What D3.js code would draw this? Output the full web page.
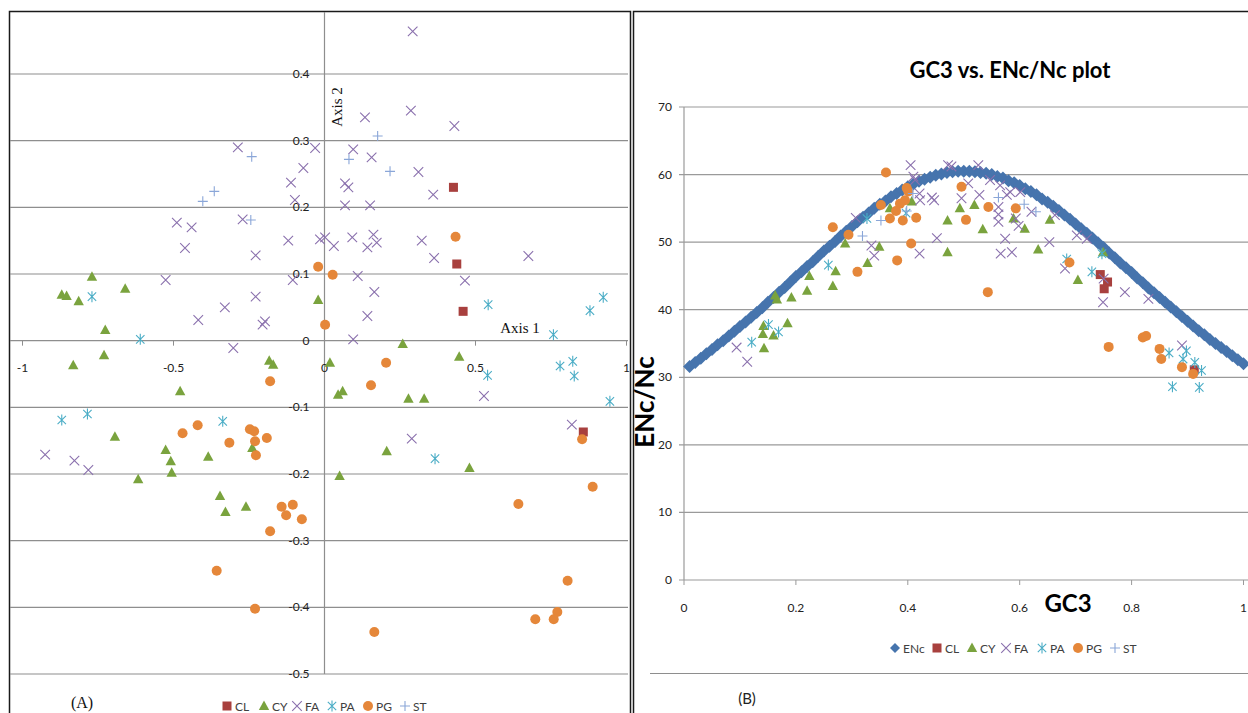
<!DOCTYPE html>
<html>
<head>
<meta charset="utf-8">
<script src="https://cdn.jsdelivr.net/npm/d3@7"></script>
<style>
  body { margin: 0; background: #fff; }
  svg { display: block; }
</style>
</head>
<body>
<div id="chart"></div>
<script>
// ---- Panel A: correspondence analysis (Axis 1 vs Axis 2) ----
const clA = [[0.427,0.230],[0.438,0.115],[0.459,0.044],[0.857,-0.137]];
const cyA = [[-0.870,0.069],[-0.854,0.067],[-0.814,0.059],[-0.770,0.096],[-0.660,0.078],[-0.726,0.016],
  [-0.021,0.061],[-0.730,-0.022],[-0.832,-0.037],[-0.478,-0.076],[-0.694,-0.144],[-0.526,-0.164],
  [-0.509,-0.181],[-0.506,-0.198],[-0.617,-0.208],[-0.385,-0.174],[-0.346,-0.233],[-0.328,-0.257],
  [-0.260,-0.249],[-0.239,-0.161],[-0.183,-0.030],[-0.170,-0.036],[0.018,-0.033],[0.259,-0.005],
  [0.446,-0.024],[0.045,-0.081],[0.060,-0.076],[0.278,-0.087],[0.330,-0.087],[0.206,-0.166],
  [0.480,-0.191],[0.050,-0.203]];
const faA = [[-0.287,0.290],[-0.489,0.177],[-0.440,0.170],[-0.462,0.139],[-0.271,0.182],[-0.228,0.128],
  [-0.526,0.091],[-0.418,0.031],[-0.330,0.050],[-0.228,0.066],[-0.205,0.024],[-0.197,0.029],
  [-0.302,-0.011],[-0.111,0.237],[-0.070,0.259],[-0.098,0.211],[-0.120,0.150],[-0.105,0.091],
  [-0.031,0.289],[-0.015,0.152],[0.292,0.464],[0.134,0.335],[0.286,0.345],[0.430,0.322],
  [0.095,0.287],[0.156,0.275],[0.311,0.253],[0.360,0.219],[0.068,0.236],[0.079,0.230],
  [0.068,0.203],[0.151,0.203],[0.002,0.155],[0.031,0.142],[0.092,0.155],[0.162,0.159],
  [0.142,0.140],[0.173,0.147],[0.322,0.150],[0.363,0.124],[0.675,0.127],[0.465,0.090],
  [0.110,0.097],[0.165,0.073],[0.142,0.037],[0.095,0.002],[-0.925,-0.171],[-0.828,-0.180],
  [-0.782,-0.194],[0.528,-0.083],[0.289,-0.147],[0.819,-0.126]];
const paA = [[-0.770,0.066],[-0.610,0.002],[-0.870,-0.119],[-0.785,-0.110],[-0.337,-0.121],
  [0.542,0.054],[0.879,0.045],[0.923,0.065],[0.758,0.009],[0.780,-0.038],[0.822,-0.031],
  [0.827,-0.053],[0.540,-0.052],[0.945,-0.091],[0.366,-0.177]];
const pgA = [[-0.021,0.111],[0.002,0.024],[0.434,0.156],[0.027,0.099],[-0.180,-0.061],[-0.470,-0.139],
  [-0.420,-0.127],[-0.315,-0.153],[-0.247,-0.133],[-0.233,-0.136],[-0.230,-0.151],[-0.191,-0.146],
  [-0.227,-0.172],[-0.142,-0.249],[-0.127,-0.262],[-0.105,-0.246],[-0.075,-0.268],[-0.180,-0.286],
  [-0.357,-0.345],[-0.230,-0.402],[0.204,-0.033],[0.154,-0.067],[0.853,-0.148],[0.888,-0.219],
  [0.642,-0.245],[0.805,-0.360],[0.771,-0.407],[0.759,-0.418],[0.698,-0.418],[0.165,-0.437]];
const stA = [[-0.241,0.276],[-0.365,0.224],[-0.403,0.209],[-0.244,0.181],[0.176,0.307],[0.081,0.272],[0.217,0.254]];
const xTicksA = [-1, -0.5, 0, 0.5, 1];
const yTicksA = [-0.5, -0.4, -0.3, -0.2, -0.1, 0, 0.1, 0.2, 0.3, 0.4];

// ---- Panel B: GC3 vs ENc/Nc ----
const encGc3 = [0.01,0.02,0.03,0.04,0.05,0.06,0.07,0.08,0.09,0.10,0.11,0.12,0.13,0.14,0.15,0.16,0.17,0.18,0.19,0.20,
  0.21,0.22,0.23,0.24,0.25,0.26,0.27,0.28,0.29,0.30,0.31,0.32,0.33,0.34,0.35,0.36,0.37,0.38,0.39,0.40,
  0.41,0.42,0.43,0.44,0.45,0.46,0.47,0.48,0.49,0.50,0.51,0.52,0.53,0.54,0.55,0.56,0.57,0.58,0.59,0.60,
  0.61,0.62,0.63,0.64,0.65,0.66,0.67,0.68,0.69,0.70,0.71,0.72,0.73,0.74,0.75,0.76,0.77,0.78,0.79,0.80,
  0.81,0.82,0.83,0.84,0.85,0.86,0.87,0.88,0.89,0.90,0.91,0.92,0.93,0.94,0.95,0.96,0.97,0.98,0.99,1.00];
const encValues = [31.6,32.2,32.8,33.5,34.1,34.8,35.4,36.1,36.8,37.5,38.2,38.9,39.6,40.3,41.1,41.8,42.6,43.3,44.1,44.9,
  45.6,46.4,47.1,47.9,48.7,49.4,50.1,50.9,51.6,52.3,53.0,53.7,54.3,55.0,55.6,56.1,56.7,57.2,57.7,58.2,
  58.6,59.0,59.3,59.6,59.9,60.1,60.3,60.4,60.5,60.5,60.5,60.4,60.3,60.2,60.0,59.7,59.5,59.1,58.8,58.4,
  57.9,57.5,57.0,56.4,55.9,55.3,54.7,54.0,53.4,52.7,52.0,51.3,50.6,49.9,49.2,48.4,47.7,46.9,46.2,45.5,
  44.7,44.0,43.2,42.5,41.8,41.1,40.4,39.7,39.0,38.3,37.6,36.9,36.3,35.6,35.0,34.4,33.8,33.2,32.6,32.0];
const clB = [[0.744,45.2],[0.757,44.1],[0.751,43.1],[0.912,31.1]];
const cyB = [[0.142,37.6],[0.141,36.4],[0.143,34.3],[0.160,36.2],[0.185,38.0],[0.163,42.1],[0.166,41.5],
  [0.192,41.8],[0.220,42.8],[0.224,45.0],[0.266,43.5],[0.271,45.7],[0.288,49.8],[0.328,46.9],[0.349,49.3],
  [0.368,55.0],[0.407,56.0],[0.471,53.2],[0.493,55.0],[0.519,55.5],[0.534,51.9],[0.471,48.5],[0.589,53.5],
  [0.609,52.0],[0.633,48.9],[0.654,53.3],[0.704,44.4],[0.749,48.5]];
const faB = [[0.094,34.4],[0.113,32.3],[0.307,53.6],[0.335,49.5],[0.340,48.0],[0.405,61.4],[0.410,59.7],
  [0.413,59.2],[0.472,61.4],[0.478,61.2],[0.526,61.4],[0.421,57.2],[0.422,56.2],[0.443,56.6],[0.447,56.2],
  [0.496,56.5],[0.508,58.7],[0.528,57.0],[0.547,59.2],[0.565,58.4],[0.577,57.0],[0.583,57.4],[0.601,57.4],
  [0.562,55.2],[0.562,54.1],[0.562,53.0],[0.593,53.5],[0.598,52.4],[0.621,54.5],[0.574,50.5],[0.566,48.3],
  [0.586,48.5],[0.653,50.0],[0.452,50.6],[0.421,48.3],[0.663,54.0],[0.702,51.0],[0.720,50.5],[0.681,46.1],
  [0.749,41.1],[0.788,42.6],[0.830,41.6],[0.890,34.7],[0.750,44.6]];
const paB = [[0.121,35.2],[0.151,37.8],[0.169,36.7],[0.258,46.6],[0.327,53.5],[0.397,54.3],[0.684,47.5],
  [0.747,48.3],[0.729,45.6],[0.867,33.6],[0.898,33.9],[0.892,32.7],[0.913,32.2],[0.925,31.0],
  [0.873,28.6],[0.921,28.5]];
const pgB = [[0.266,52.2],[0.294,51.1],[0.310,45.6],[0.361,60.3],[0.352,55.5],[0.398,58.0],[0.401,57.5],
  [0.395,56.2],[0.386,55.7],[0.379,54.6],[0.368,53.5],[0.391,53.2],[0.415,53.6],[0.406,49.8],[0.381,47.3],
  [0.496,58.2],[0.504,53.3],[0.544,55.2],[0.593,55.0],[0.543,42.6],[0.689,47.0],[0.759,34.5],[0.820,35.9],
  [0.826,36.1],[0.850,34.2],[0.853,32.7],[0.890,31.5],[0.910,30.5]];
const stB = [[0.319,50.9],[0.352,53.2],[0.398,54.6],[0.409,57.2],[0.562,56.6],[0.608,55.6],[0.629,54.5]];
const xTicksB = [0, 0.2, 0.4, 0.6, 0.8, 1];
const yTicksB = [0, 10, 20, 30, 40, 50, 60, 70];

const colors = { ENc: "#4674ad", CL: "#a8403e", CY: "#7aa33e", FA: "#8a70ad", PA: "#4badc6", PG: "#e5873a", ST: "#8aa6d8" };
const shapes = { ENc: "diamond", CL: "square", CY: "triangle", FA: "x", PA: "star", PG: "circle", ST: "plus" };
const sans = "Lato, 'Open Sans', sans-serif";
const serif = "'Liberation Serif', 'DejaVu Serif', serif";

const svg = d3.select("#chart").append("svg").attr("width", 1248).attr("height", 713);

function marker(g, name, big) {
  const c = colors[name];
  switch (shapes[name]) {
    case "square":
      g.append("rect").attr("x", -4.5).attr("y", -4.5).attr("width", 9).attr("height", 9).attr("fill", c); break;
    case "triangle":
      g.append("path").attr("d", "M0,-5.5L5.2,4L-5.2,4Z").attr("fill", c); break;
    case "x":
      g.append("path").attr("d", "M-4.8,-4.8L4.8,4.8M-4.8,4.8L4.8,-4.8").attr("stroke", c).attr("stroke-width", 1.1).attr("fill", "none"); break;
    case "star":
      g.append("path").attr("d", "M-4.2,-4.2L4.2,4.2M-4.2,4.2L4.2,-4.2M0,-5.5L0,5.5").attr("stroke", c).attr("stroke-width", 1.1).attr("fill", "none"); break;
    case "circle":
      g.append("circle").attr("r", 5).attr("fill", c); break;
    case "plus":
      g.append("path").attr("d", "M-5,0L5,0M0,-5L0,5").attr("stroke", c).attr("stroke-width", 1.1).attr("fill", "none"); break;
    case "diamond": {
      const s = big ? 6.5 : 5;
      g.append("path").attr("d", `M0,${-s}L${s},0L0,${s}L${-s},0Z`).attr("fill", c); break;
    }
  }
}

function series(layer, data, name, x, y, big) {
  layer.selectAll(null).data(data).enter().append("g")
    .attr("transform", d => `translate(${x(d[0])},${y(d[1])})`)
    .each(function () { marker(d3.select(this), name, big); });
}

function legend(g, names, positions, yy) {
  names.forEach((n, i) => {
    const it = g.append("g").attr("transform", `translate(${positions[i]},${yy})`);
    marker(it, n, false);
    it.append("text").attr("x", 8).attr("y", 4.5).text(n)
      .attr("font-family", sans).attr("font-size", 12).attr("fill", "#404040");
  });
}

// ================= Panel A =================
const A = svg.append("g");
const xA = d3.scaleLinear().domain([-1, 1]).range([22.5, 626.5]);
const yA = d3.scaleLinear().domain([-0.5, 0.4]).range([674, 74]);

// frame
A.append("path").attr("d", "M9.5,713V11.5H630.5V713").attr("fill", "none").attr("stroke", "#1a1a1a").attr("stroke-width", 1.5);

// horizontal gridlines
A.selectAll(".gA").data(yTicksA).enter().append("line")
  .attr("x1", 10).attr("x2", 628).attr("y1", d => yA(d)).attr("y2", d => yA(d))
  .attr("stroke", "#8e8e8e").attr("stroke-width", 1.2);
// vertical axis through zero
A.append("line").attr("x1", xA(0)).attr("x2", xA(0)).attr("y1", 12).attr("y2", yA(-0.5))
  .attr("stroke", "#8e8e8e").attr("stroke-width", 1.2);
// x tick marks
A.selectAll(".tA").data(xTicksA.filter(d => d !== 0)).enter().append("line")
  .attr("x1", d => xA(d)).attr("x2", d => xA(d)).attr("y1", yA(0)).attr("y2", yA(0) + 5)
  .attr("stroke", "#8e8e8e");
// tick labels
A.selectAll(".xlA").data(xTicksA).enter().append("text")
  .attr("x", d => xA(d)).attr("y", yA(0) + 31).attr("text-anchor", "middle")
  .attr("font-family", sans).attr("font-size", 12).attr("fill", "#222").text(d => String(d));
A.selectAll(".ylA").data(yTicksA).enter().append("text")
  .attr("x", xA(0) - 15).attr("y", d => yA(d) + 4).attr("text-anchor", "end")
  .attr("font-family", sans).attr("font-size", 12).attr("fill", "#222").text(d => String(d));

A.append("text").attr("transform", `translate(${xA(0) + 17},107) rotate(-90)`).attr("text-anchor", "middle")
  .attr("font-family", serif).attr("font-size", 15).attr("fill", "#111").text("Axis 2");
A.append("text").attr("x", 520).attr("y", 333).attr("text-anchor", "middle")
  .attr("font-family", serif).attr("font-size", 15).attr("fill", "#111").text("Axis 1");

const pA = A.append("g");
series(pA, clA, "CL", xA, yA);
series(pA, cyA, "CY", xA, yA);
series(pA, faA, "FA", xA, yA);
series(pA, paA, "PA", xA, yA);
series(pA, pgA, "PG", xA, yA);
series(pA, stA, "ST", xA, yA);

legend(A, ["CL", "CY", "FA", "PA", "PG", "ST"], [227, 264, 297, 332, 368, 405], 706);
A.append("text").attr("x", 82).attr("y", 708).attr("text-anchor", "middle")
  .attr("font-family", serif).attr("font-size", 16).attr("fill", "#111").text("(A)");

// ================= Panel B =================
const B = svg.append("g");
const xB = d3.scaleLinear().domain([0, 1]).range([684, 1243.5]);
const yB = d3.scaleLinear().domain([0, 70]).range([580, 107]);

B.append("path").attr("d", "M633.5,713V11.5H1248").attr("fill", "none").attr("stroke", "#1a1a1a").attr("stroke-width", 1.5);
B.append("line").attr("x1", 650).attr("x2", 1248).attr("y1", 673.5).attr("y2", 673.5).attr("stroke", "#8e8e8e");

B.selectAll(".gB").data(yTicksB).enter().append("line")
  .attr("x1", 679).attr("x2", 1248).attr("y1", d => yB(d)).attr("y2", d => yB(d))
  .attr("stroke", "#9a9a9a").attr("stroke-width", 1.2);
B.append("line").attr("x1", 684).attr("x2", 684).attr("y1", yB(70)).attr("y2", yB(0))
  .attr("stroke", "#9a9a9a").attr("stroke-width", 1.2);
B.selectAll(".tB").data(xTicksB).enter().append("line")
  .attr("x1", d => xB(d)).attr("x2", d => xB(d)).attr("y1", yB(0)).attr("y2", yB(0) + 5)
  .attr("stroke", "#9a9a9a");
B.selectAll(".xlB").data(xTicksB).enter().append("text")
  .attr("x", d => xB(d)).attr("y", 612).attr("text-anchor", "middle")
  .attr("font-family", sans).attr("font-size", 12).attr("fill", "#222").text(d => String(d));
B.selectAll(".ylB").data(yTicksB).enter().append("text")
  .attr("x", 672).attr("y", d => yB(d) + 4).attr("text-anchor", "end")
  .attr("font-family", sans).attr("font-size", 12).attr("fill", "#222").text(d => String(d));

B.append("text").attr("x", 1010).attr("y", 78).attr("text-anchor", "middle")
  .attr("font-family", sans).attr("font-weight", "bold").attr("font-size", 22).attr("fill", "#000")
  .text("GC3 vs. ENc/Nc plot");
B.append("text").attr("x", 1068).attr("y", 612).attr("text-anchor", "middle")
  .attr("font-family", sans).attr("font-weight", "bold").attr("font-size", 24).attr("fill", "#000").text("GC3");
B.append("text").attr("transform", "translate(654,402) rotate(-90)").attr("text-anchor", "middle")
  .attr("font-family", sans).attr("font-weight", "bold").attr("font-size", 26).attr("fill", "#000").text("ENc/Nc");

const pB = B.append("g");
series(pB, encGc3.map((g, i) => [g, encValues[i]]), "ENc", xB, yB, true);
series(pB, clB, "CL", xB, yB);
series(pB, cyB, "CY", xB, yB);
series(pB, faB, "FA", xB, yB);
series(pB, paB, "PA", xB, yB);
series(pB, pgB, "PG", xB, yB);
series(pB, stB, "ST", xB, yB);

legend(B, ["ENc", "CL", "CY", "FA", "PA", "PG", "ST"], [895, 937, 972, 1006, 1042, 1078, 1115], 648);
B.append("text").attr("x", 747).attr("y", 704).attr("text-anchor", "middle")
  .attr("font-family", sans).attr("font-size", 15).attr("fill", "#222").text("(B)");
</script>
</body>
</html>
